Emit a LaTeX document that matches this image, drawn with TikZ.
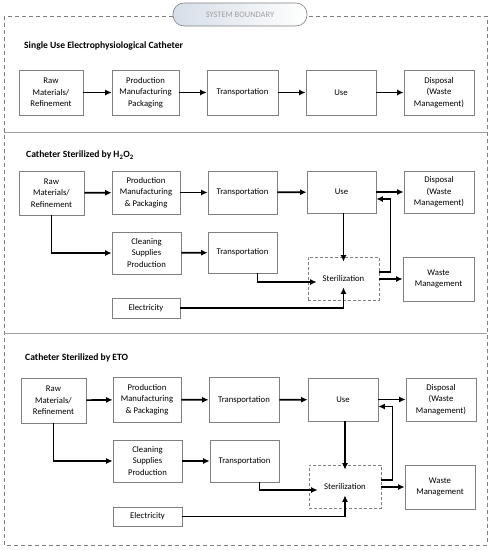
\documentclass[tikz,border=0pt]{standalone}
\usepackage{fontspec}
\setmainfont{Carlito}
\usepackage{tikz}
\usetikzlibrary{arrows.meta}
\definecolor{edgegray}{RGB}{128,128,128}
\definecolor{linegray}{RGB}{160,160,160}
\definecolor{pillfill}{RGB}{214,222,232}
\tikzset{
  stage/.style={
    shape=rectangle,
    draw=edgegray,
    line width=0.7pt,
    align=center,
    font=\fontsize{8.7}{11.3}\selectfont,
    minimum width=69pt,
    minimum height=43pt,
    inner sep=1pt,
  },
  sterbox/.style={
    stage, draw=gray, dash pattern=on 3pt off 2pt, minimum width=71pt
  },
  flow/.style={
    draw, line width=1.7pt, -{Latex[length=6.5pt,width=6pt]}
  },
  title/.style={
    anchor=west, font=\fontsize{9.6}{12}\selectfont\bfseries, inner sep=0pt
  }
}

\begin{document}
\begin{tikzpicture}[x=1pt, y=-1pt]
\useasboundingbox (0,0) rectangle (492,550);

% Boundary
\draw[edgegray, line width=0.7pt, dash pattern=on 4pt off 3pt] (4,16) rectangle (487,545);
\draw[linegray, line width=0.9pt] (4,132) -- (487,132);
\draw[linegray, line width=0.9pt] (4,333) -- (487,333);
\node[draw=edgegray, line width=0.6pt, rounded corners=11pt, left color=pillfill, right color=white,
  minimum width=134pt, minimum height=23pt, text=linegray, font=\fontsize{8.4}{10}\selectfont]
  (boundary) at (240,14.5) {SYSTEM BOUNDARY};

% Single use
\node[title] (head1) at (24,46) {Single Use Electrophysiological Catheter};
\node[stage, minimum width=64pt, minimum height=45pt] (raw1) at (51,92.5) {Raw\\Materials/\\Refinement};
\node[stage, minimum width=67pt, minimum height=45pt] (prod1) at (145.5,92.5) {Production\\Manufacturing\\Packaging};
\node[stage, minimum width=71pt, minimum height=45pt] (trans1) at (242.5,92.5) {Transportation};
\node[stage, minimum width=70pt, minimum height=45pt] (use1) at (341,92.5) {Use};
\node[stage, minimum width=70pt, minimum height=45pt] (disp1) at (439,92.5) {Disposal\\(Waste\\Management)};
\draw[flow] (raw1) -- (prod1);
\draw[flow] (prod1) -- (trans1);
\draw[flow] (trans1) -- (use1);
\draw[flow] (use1) -- (disp1);

% H2O2
\node[title] (head2) at (26,155) {Catheter Sterilized by H\textsubscript{2}O\textsubscript{2}};
\node[stage, minimum width=65pt, minimum height=44pt] (raw2) at (51.5,193) {Raw\\Materials/\\Refinement};
\node[stage, minimum width=68pt] (prod2) at (146,192.5) {Production\\Manufacturing\\\& Packaging};
\node[stage] (trans2) at (242.5,192.5) {Transportation};
\node[stage, minimum height=42pt] (use2) at (341.5,192) {Use};
\node[stage, minimum width=70pt, minimum height=42pt] (disp2) at (439,192) {Disposal\\(Waste\\Management)};
\node[stage, minimum height=42pt] (clean2) at (146.5,253) {Cleaning\\Supplies\\Production};
\node[stage, minimum height=41pt] (ship2) at (242.5,252.5) {Transportation};
\node[stage, minimum width=68pt, minimum height=20pt] (power2) at (146,308) {Electricity};
\node[sterbox] (steril2) at (343.5,278.5) {Sterilization};
\node[stage, minimum width=71pt, minimum height=44pt] (waste2) at (438.5,279) {Waste\\Management};
\draw[flow] (raw2) -- (prod2);
\draw[flow] (prod2) -- (trans2);
\draw[flow] (trans2) -- (use2);
\draw[flow] (use2) -- (disp2);
\draw[flow] (raw2.south) |- (clean2.west);
\draw[flow] (clean2) -- (ship2);
\draw[flow, shorten >=-5pt] (steril2.north |- use2.south) -- (steril2.north);
\draw[flow, shorten >=-9pt] ([xshift=-20pt]ship2.south east) |- ([yshift=-3.5pt]steril2.west);
\draw[flow, shorten >=-13pt] (power2.east) -| (steril2.south);
\draw[flow] ([yshift=6.5pt]steril2.east) -- ++(11,0) |- ([yshift=-7pt]use2.east);
\draw[flow] (steril2.east |- waste2.west) -- (waste2.west);

% ETO
\node[title] (head3) at (25,358) {Catheter Sterilized by ETO};
\node[stage, minimum width=65pt, minimum height=45pt] (raw3) at (53.5,400.5) {Raw\\Materials/\\Refinement};
\node[stage, minimum width=68pt, minimum height=45pt] (prod3) at (147,399.5) {Production\\Manufacturing\\\& Packaging};
\node[stage, minimum width=70pt, minimum height=45pt] (trans3) at (244,400) {Transportation};
\node[stage, minimum width=70pt] (use3) at (343,399.5) {Use};
\node[stage, minimum width=70pt] (disp3) at (441,399.5) {Disposal\\(Waste\\Management)};
\node[stage, minimum height=42pt] (clean3) at (147.5,461) {Cleaning\\Supplies\\Production};
\node[stage, minimum height=42pt] (ship3) at (244.5,461) {Transportation};
\node[stage, minimum height=19pt] (power3) at (147.5,516.5) {Electricity};
\node[sterbox, minimum width=72pt] (steril3) at (345,486.5) {Sterilization};
\node[stage, minimum width=70pt, minimum height=44pt] (waste3) at (440,487) {Waste\\Management};
\draw[flow] (raw3) -- (prod3);
\draw[flow] (prod3) -- (trans3);
\draw[flow] (trans3) -- (use3);
\draw[flow] (use3) -- (disp3);
\draw[flow] (raw3.south) |- (clean3.west);
\draw[flow] (clean3) -- (ship3);
\draw[flow, shorten >=-5pt] (steril3.north |- use3.south) -- (steril3.north);
\draw[flow, shorten >=-9pt] ([xshift=-20pt]ship3.south east) |- ([yshift=-3.5pt]steril3.west);
\draw[flow, shorten >=-13pt] (power3.east) -| (steril3.south);
\draw[flow] ([yshift=6.5pt]steril3.east) -- ++(11,0) |- ([yshift=-7pt]use3.east);
\draw[flow] (steril3.east |- waste3.west) -- (waste3.west);

\end{tikzpicture}
\end{document}
